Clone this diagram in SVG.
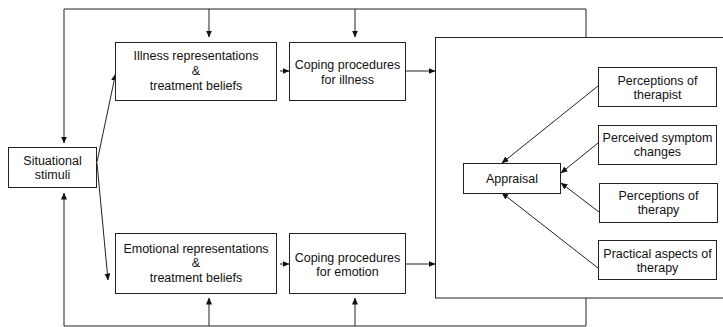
<svg xmlns="http://www.w3.org/2000/svg" width="723" height="327" viewBox="0 0 723 327">
<style>
.box{fill:#fff;stroke:#222;stroke-width:1}
.ln{fill:none;stroke:#222;stroke-width:1}
text{font-family:"Liberation Sans",Arial,sans-serif;font-size:12.5px;fill:#111;text-anchor:middle}
</style>
<defs>
<marker id="ah" markerWidth="7" markerHeight="6" refX="6.5" refY="3" orient="auto" markerUnits="userSpaceOnUse">
<path d="M0,0 L7,3 L0,6 Z" fill="#111"/>
</marker>
</defs>
<rect width="723" height="327" fill="#fff"/>
<g id="connectors">
<path class="ln" d="M64,9 H586 V37"/>
<path class="ln" d="M64,9 V143" marker-end="url(#ah)"/>
<path class="ln" d="M209,9 V37" marker-end="url(#ah)"/>
<path class="ln" d="M355,9 V37" marker-end="url(#ah)"/>
<path class="ln" d="M64,326 H586 V298"/>
<path class="ln" d="M64,326 V193" marker-end="url(#ah)"/>
<path class="ln" d="M209,326 V298" marker-end="url(#ah)"/>
<path class="ln" d="M355,326 V298" marker-end="url(#ah)"/>
<path class="ln" d="M97,162 L115.5,74" marker-end="url(#ah)"/>
<path class="ln" d="M97,163 L108,280" marker-end="url(#ah)"/>
<path class="ln" d="M280,71 H289" marker-end="url(#ah)"/>
<path class="ln" d="M405,71 H435" marker-end="url(#ah)"/>
<path class="ln" d="M280,264 H289" marker-end="url(#ah)"/>
<path class="ln" d="M405,264 H435" marker-end="url(#ah)"/>
</g>
<g id="appraisal-frame"><rect class="box" x="435.5" y="37.5" width="300" height="260.5"/></g>
<g id="arrows-inner">
<path class="ln" d="M598,86 L502,163" marker-end="url(#ah)"/>
<path class="ln" d="M598,143 L561,173" marker-end="url(#ah)"/>
<path class="ln" d="M599,212 L561,183" marker-end="url(#ah)"/>
<path class="ln" d="M598,268 L502,193" marker-end="url(#ah)"/>
</g>
<g id="situational"><rect class="box" x="8.5" y="147.5" width="88" height="40"/><text x="52.5" y="164.5">Situational</text><text x="52.5" y="178.5">stimuli</text></g>
<g id="illness-rep"><rect class="box" x="115.5" y="42.5" width="161" height="58"/><text x="196" y="60">Illness representations</text><text x="196" y="75">&amp;</text><text x="196" y="90">treatment beliefs</text></g>
<g id="coping-illness"><rect class="box" x="289.5" y="42.5" width="116" height="58"/><text x="347.5" y="68.5">Coping procedures</text><text x="347.5" y="83.5">for illness</text></g>
<g id="emotional-rep"><rect class="box" x="115.5" y="233.5" width="161" height="60"/><text x="196" y="252.5">Emotional representations</text><text x="196" y="267">&amp;</text><text x="196" y="281.5">treatment beliefs</text></g>
<g id="coping-emotion"><rect class="box" x="289.5" y="233.5" width="116" height="60"/><text x="347.5" y="261.5">Coping procedures</text><text x="347.5" y="275.5">for emotion</text></g>
<g id="appraisal"><rect class="box" x="463.5" y="163.5" width="97" height="30"/><text x="512" y="182.5">Appraisal</text></g>
<g id="perc-therapist"><rect class="box" x="598.5" y="67.5" width="118" height="39"/><text x="657.5" y="84.5">Perceptions of</text><text x="657.5" y="98.5">therapist</text></g>
<g id="perc-symptom"><rect class="box" x="598.5" y="125.5" width="118" height="39"/><text x="657.5" y="141.5">Perceived symptom</text><text x="657.5" y="156">changes</text></g>
<g id="perc-therapy"><rect class="box" x="599.5" y="183.5" width="118" height="39"/><text x="658.5" y="199.5">Perceptions of</text><text x="658.5" y="214">therapy</text></g>
<g id="practical"><rect class="box" x="598.5" y="240.5" width="118" height="39"/><text x="657.5" y="257.5">Practical aspects of</text><text x="657.5" y="272">therapy</text></g>
</svg>
